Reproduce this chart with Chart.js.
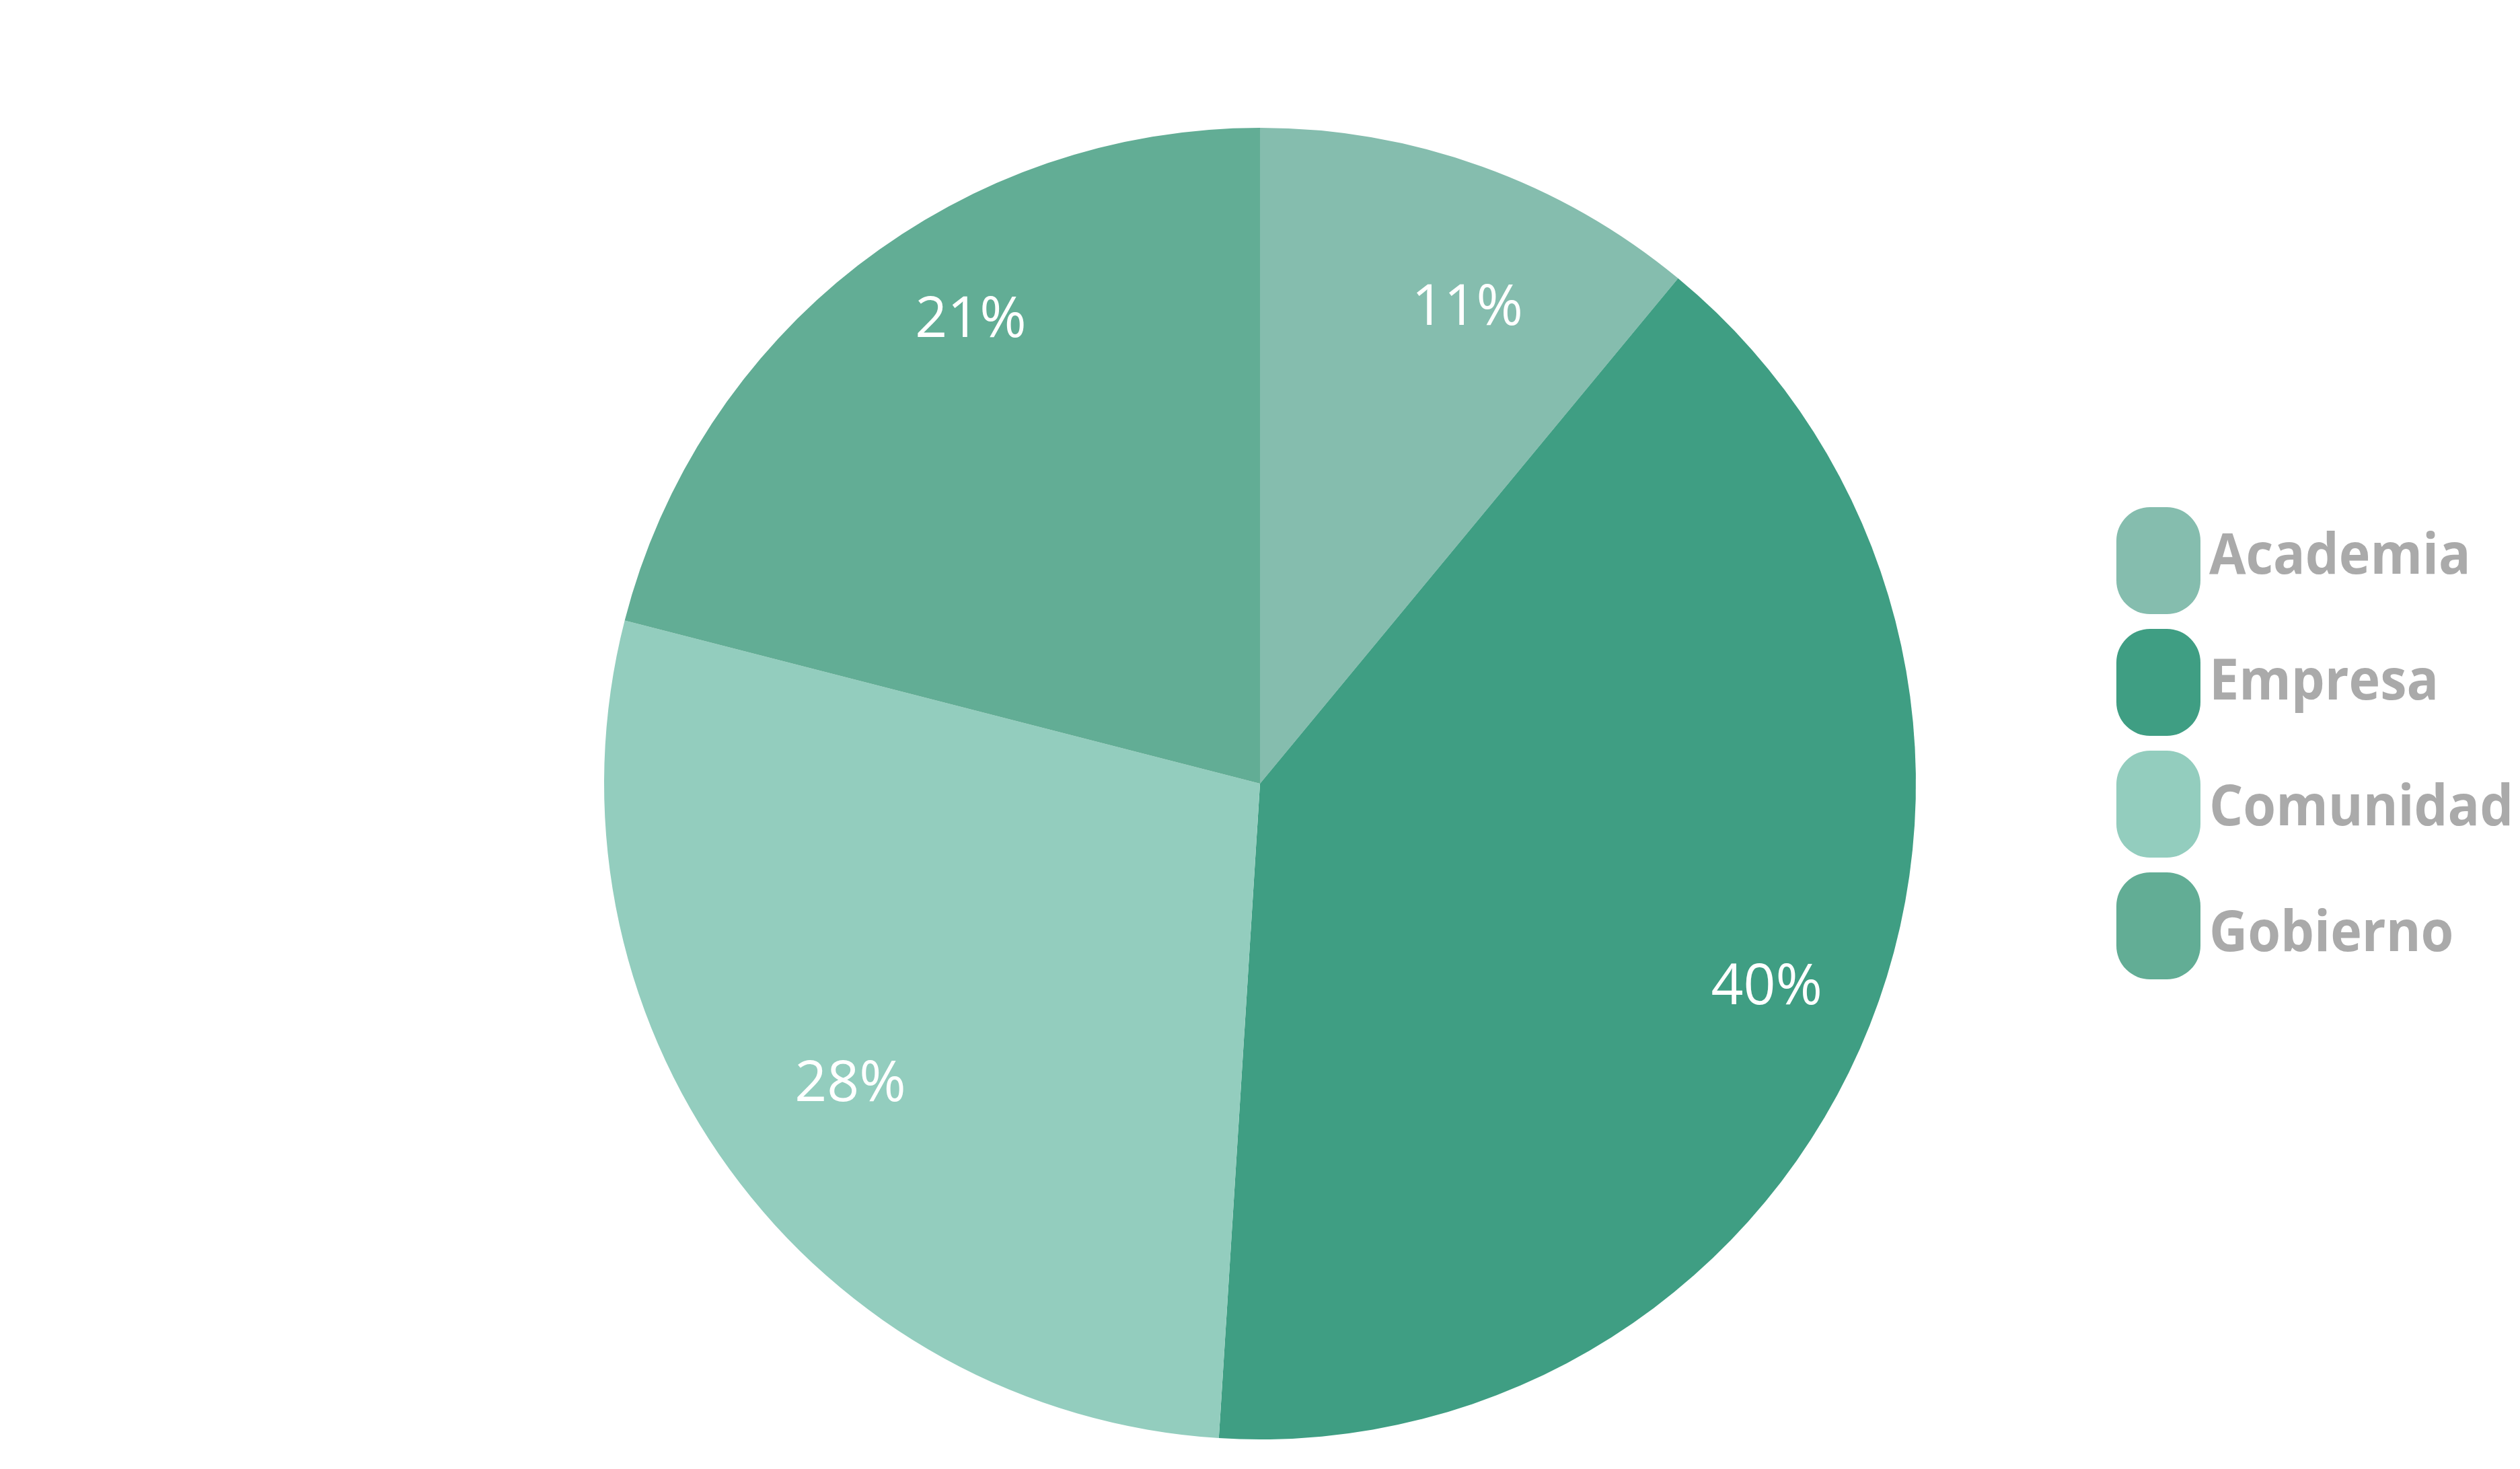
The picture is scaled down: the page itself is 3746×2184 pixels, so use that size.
<!DOCTYPE html>
<html>
<head>
<meta charset="utf-8">
<script src="https://cdn.jsdelivr.net/npm/chart.js@4.4.0/dist/chart.umd.min.js"></script>
<style>
  html, body { margin: 0; padding: 0; background: #fff; }
  #wrap { width: 3746px; height: 2184px; position: relative; }
</style>
</head>
<body>
<div id="wrap"><canvas id="chart"></canvas></div>
<script>
const labels = ["Academia", "Empresa", "Comunidad", "Gobierno"];
const shares = [11, 40, 28, 21];
const colors = ["#85BDAE", "#3F9E83", "#93CDBE", "#62AD95"];

// small pixel nudges so the % text sits where the original put it
const labelNudge = [[44, 22], [28, 11], [22, -16], [48, -78]];

// percentage text inside each slice
const sliceLabels = {
  id: "sliceLabels",
  afterDatasetsDraw(chart) {
    const { ctx } = chart;
    const meta = chart.getDatasetMeta(0);
    ctx.save();
    ctx.fillStyle = "#ffffff";
    ctx.font = '84px "Open Sans"';
    ctx.textAlign = "center";
    ctx.textBaseline = "alphabetic";
    meta.data.forEach((arc, i) => {
      const { x, y, startAngle, endAngle, outerRadius } =
        arc.getProps(["x", "y", "startAngle", "endAngle", "outerRadius"], true);
      const mid = (startAngle + endAngle) / 2;
      const r = outerRadius * 0.8;
      const [nx, ny] = labelNudge[i];
      ctx.fillText(shares[i] + "%", x + Math.cos(mid) * r + nx, y + Math.sin(mid) * r + 30 + ny);
    });
    ctx.restore();
  }
};

// legend on the right, drawn over the canvas so the pie stays centred
const sideLegend = {
  id: "sideLegend",
  afterDraw(chart) {
    const { ctx } = chart;
    ctx.save();
    ctx.font = 'bold 84px "Open Sans"';
    ctx.textBaseline = "alphabetic";
    ctx.textAlign = "left";
    labels.forEach((name, i) => {
      const top = 754 + i * 181;
      ctx.fillStyle = colors[i];
      ctx.beginPath();
      ctx.roundRect(3146, top, 125, 159, 50);
      ctx.fill();
      ctx.fillStyle = "#AAAAAA";
      const w = ctx.measureText(name).width * 0.94;
      ctx.fillText(name, 3284, 853 + i * 187, w);
    });
    ctx.restore();
  }
};

const chart = new Chart(document.getElementById("chart"), {
  type: "pie",
  data: {
    labels: labels,
    datasets: [
      {
        data: shares,
        backgroundColor: colors,
        borderWidth: 0,
        hoverOffset: 0,
      },
    ],
  },
  options: {
    responsive: true,
    maintainAspectRatio: false,
    animation: false,
    layout: {
      padding: { top: 190, bottom: 44, left: 0, right: 0 },
    },
    plugins: {
      legend: { display: false },
      tooltip: { enabled: false },
    },
  },
  plugins: [sliceLabels, sideLegend],
});
</script>
</body>
</html>
